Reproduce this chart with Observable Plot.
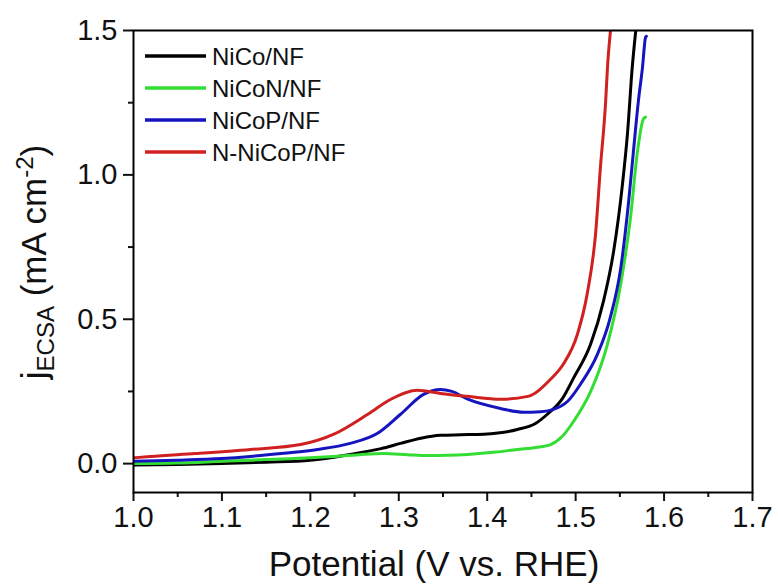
<!DOCTYPE html>
<html>
<head>
<meta charset="utf-8">
<script src="https://cdn.jsdelivr.net/npm/d3@7"></script>
<script src="https://cdn.jsdelivr.net/npm/@observablehq/plot@0.6"></script>
<style>
  html, body { margin: 0; padding: 0; background: #fff; }
  #chart svg { display: block; }
</style>
</head>
<body>
<div id="chart"></div>
<script>
// ---- data ----
const seriesNames = ["NiCo/NF", "NiCoN/NF", "NiCoP/NF", "N-NiCoP/NF"];
const seriesColors = ["#000000", "#33dd33", "#1515c0", "#d02020"];

const nicoX = [1.00, 1.05, 1.10, 1.15, 1.20, 1.245, 1.28, 1.302, 1.325, 1.347, 1.37, 1.396, 1.434, 1.455, 1.468, 1.485, 1.4976, 1.517, 1.5315, 1.543, 1.553, 1.5586, 1.564, 1.568];
const nicoY = [-0.005, -0.003, 0.0, 0.005, 0.012, 0.032, 0.052, 0.070, 0.088, 0.098, 0.100, 0.102, 0.118, 0.140, 0.171, 0.225, 0.296, 0.414, 0.563, 0.736, 0.969, 1.142, 1.372, 1.50];

const niconX = [1.00, 1.05, 1.10, 1.15, 1.20, 1.226, 1.255, 1.283, 1.31, 1.332, 1.355, 1.378, 1.41, 1.434, 1.455, 1.4716, 1.485, 1.4976, 1.517, 1.536, 1.551, 1.562, 1.570, 1.5767, 1.579];
const niconY = [0.0, 0.002, 0.008, 0.014, 0.020, 0.025, 0.031, 0.035, 0.031, 0.028, 0.029, 0.032, 0.040, 0.049, 0.056, 0.066, 0.095, 0.146, 0.250, 0.414, 0.622, 0.851, 1.083, 1.194, 1.20];

const nicopX = [1.00, 1.05, 1.10, 1.132, 1.17, 1.208, 1.245, 1.276, 1.302, 1.328, 1.347, 1.36, 1.378, 1.415, 1.441, 1.46, 1.475, 1.491, 1.5055, 1.5247, 1.539, 1.551, 1.560, 1.5654, 1.571, 1.5756, 1.579, 1.58];
const nicopY = [0.008, 0.012, 0.018, 0.025, 0.036, 0.049, 0.070, 0.105, 0.171, 0.240, 0.257, 0.250, 0.223, 0.191, 0.178, 0.180, 0.188, 0.216, 0.275, 0.379, 0.504, 0.677, 0.910, 1.083, 1.257, 1.372, 1.476, 1.48];

const nnicopX = [1.00, 1.019, 1.07, 1.132, 1.189, 1.226, 1.265, 1.291, 1.321, 1.347, 1.378, 1.415, 1.446, 1.4716, 1.486, 1.502, 1.513, 1.5225, 1.528, 1.534, 1.536, 1.5394];
const nnicopY = [0.020, 0.025, 0.035, 0.049, 0.066, 0.101, 0.171, 0.223, 0.254, 0.243, 0.233, 0.223, 0.233, 0.292, 0.344, 0.448, 0.587, 0.795, 1.025, 1.257, 1.372, 1.50];

const xTicks = [1.0, 1.1, 1.2, 1.3, 1.4, 1.5, 1.6, 1.7];
const xMinorTicks = [1.05, 1.15, 1.25, 1.35, 1.45, 1.55, 1.65];
const yTicks = [0.0, 0.5, 1.0, 1.5];
const yMinorTicks = [0.25, 0.75, 1.25];
const xLabel = "Potential (V vs. RHE)";

// ---- build table ----
const xs = [nicoX, niconX, nicopX, nnicopX];
const ys = [nicoY, niconY, nicopY, nnicopY];
const rows = [];
seriesNames.forEach((name, i) => {
  xs[i].forEach((x, j) => rows.push({series: name, x, y: ys[i][j]}));
});

const font = "'Liberation Sans', Arial, Helvetica, sans-serif";
const W = 778, H = 585;
const mL = 133, mR = 26, mT = 30, mB = 93;

const plot = Plot.plot({
  width: W, height: H,
  marginLeft: mL, marginRight: mR, marginTop: mT, marginBottom: mB,
  style: {fontFamily: font, fontSize: "29px", color: "#111", background: "#fff", overflow: "visible"},
  x: {domain: [1.0, 1.7]},
  y: {domain: [-0.1, 1.5]},
  color: {domain: seriesNames, range: seriesColors},
  marks: [
    Plot.axisX({ticks: xTicks, tickFormat: d3.format(".1f"), tickSize: 9, tickPadding: 5, strokeWidth: 2, label: null}),
    Plot.axisX({ticks: xMinorTicks, tickFormat: () => "", tickSize: 5, strokeWidth: 2, label: null}),
    Plot.axisY({ticks: yTicks, tickFormat: d3.format(".1f"), tickSize: 10, tickPadding: 6, strokeWidth: 2, label: null}),
    Plot.axisY({ticks: yMinorTicks, tickFormat: () => "", tickSize: 5, strokeWidth: 2, label: null}),
    Plot.line(rows, {x: "x", y: "y", z: "series", stroke: "series", strokeWidth: 3, clip: true, curve: "monotone-x"}),
    Plot.frame({stroke: "#000", strokeWidth: 2})
  ]
});

document.getElementById("chart").appendChild(plot);

const svg = d3.select(plot);

// x axis title
svg.append("text")
  .attr("x", 434)
  .attr("y", 576)
  .attr("text-anchor", "middle")
  .attr("font-family", font)
  .attr("font-size", 35)
  .attr("fill", "#111")
  .text(xLabel);

// y axis title with sub/superscripts
const yl = svg.append("text")
  .attr("transform", `translate(46, 262) rotate(-90)`)
  .attr("text-anchor", "middle")
  .attr("font-family", font)
  .attr("font-size", 35)
  .attr("fill", "#111");
yl.append("tspan").text("j");
yl.append("tspan").attr("font-size", 24).attr("dy", 8).text("ECSA");
yl.append("tspan").attr("dy", -8).text(" (mA cm");
yl.append("tspan").attr("font-size", 24).attr("dy", -13).text("-2");
yl.append("tspan").attr("dy", 13).text(")");

// legend
const lg = svg.append("g").attr("font-family", font).attr("font-size", 24).attr("fill", "#111").attr("text-anchor", "start");
const lgX0 = 145, lgX1 = 206, lgTx = 212, lgY0 = 56, lgDy = 32;
seriesNames.forEach((name, i) => {
  const y = lgY0 + i * lgDy;
  lg.append("line").attr("x1", lgX0).attr("x2", lgX1).attr("y1", y).attr("y2", y)
    .attr("stroke", seriesColors[i]).attr("stroke-width", 3.5);
  lg.append("text").attr("x", lgTx).attr("y", y).attr("dy", "0.36em").attr("text-anchor", "start").text(name);
});
</script>
</body>
</html>
